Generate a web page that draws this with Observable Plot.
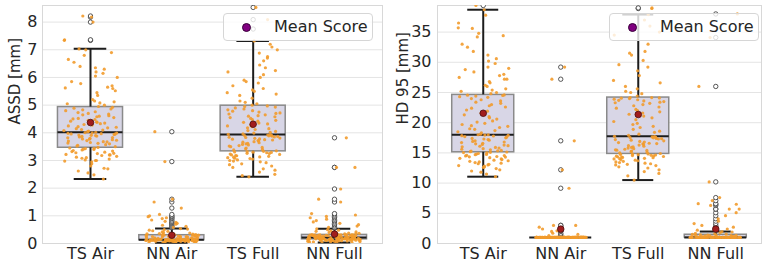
<!DOCTYPE html>
<html><head><meta charset="utf-8">
<script src="https://cdn.jsdelivr.net/npm/d3@7"></script>
<script src="https://cdn.jsdelivr.net/npm/@observablehq/plot@0.6"></script>
<style>
body{margin:0;background:#fff;}
#wrap{position:relative;width:767px;height:265px;font-family:"DejaVu Sans",sans-serif;overflow:hidden;}
.panel{position:absolute;top:0;}
.legend{position:absolute;top:13px;width:150px;height:28px;box-sizing:border-box;background:rgba(255,255,255,0.8);border:1px solid #d6d6d6;border-radius:4px;font:16px "DejaVu Sans";color:#262626;}
.legend .dot{position:absolute;left:18px;top:9px;width:7px;height:7px;border-radius:50%;background:#800080;border:0.7px solid #3a003a;}
.legend .txt{position:absolute;left:50px;top:3px;white-space:nowrap;line-height:20px;}
</style></head>
<body>
<div id="wrap">
  <div class="panel" id="p1" style="left:0"></div>
  <div class="panel" id="p2" style="left:384px"></div>
  <div class="legend" style="left:223px"><span class="dot"></span><span class="txt">Mean Score</span></div>
  <div class="legend" style="left:609px"><span class="dot"></span><span class="txt">Mean Score</span></div>
</div>
<script>
const categories = ["TS Air", "NN Air", "TS Full", "NN Full"];

// ---- ASSD [mm] ----
const assdTicks = [0,1,2,3,4,5,6,7,8];
const assdTsAir = [2.33,2.48,2.55,2.62,2.7,2.72,2.8,2.88,2.95,2.98,3.0,3.0,3.02,3.05,3.08,3.1,3.12,3.15,3.18,3.2,3.2,3.22,3.25,3.26,3.28,3.3,3.32,3.34,3.36,3.38,3.4,3.41,3.43,3.44,3.45,
 3.47,3.5,3.52,3.55,3.57,3.6,3.62,3.63,3.65,3.67,3.68,3.7,3.72,3.73,3.75,3.77,3.78,3.8,3.82,3.83,3.85,3.87,3.88,3.9,3.91,3.92,3.94,3.95,3.96,3.97,3.98,3.99,4.0,4.01,4.02,
 4.04,4.06,4.08,4.1,4.12,4.15,4.18,4.2,4.22,4.25,4.28,4.3,4.33,4.35,4.38,4.4,4.42,4.45,4.48,4.5,4.52,4.55,4.58,4.6,4.62,4.65,4.68,4.7,4.73,4.76,4.8,4.83,4.86,4.89,4.92,
 4.95,5.0,5.05,5.08,5.12,5.15,5.2,5.35,5.45,5.52,5.6,5.62,5.65,5.7,5.78,5.85,6.0,6.05,6.15,6.2,6.3,6.35,6.4,6.55,6.65,6.8,6.9,7.0,7.03,7.34,7.36,8.0,8.18,8.22];
const assdNnAir = [0.03,0.04,0.04,0.05,0.05,0.05,0.06,0.06,0.06,0.07,0.07,0.07,0.08,0.08,0.08,0.08,0.09,0.09,0.09,0.09,0.1,0.1,0.1,0.1,0.1,0.11,0.11,0.11,0.11,0.11,0.11,0.12,0.12,0.12,0.12,
 0.12,0.12,0.12,0.12,0.12,0.13,0.13,0.13,0.13,0.13,0.13,0.13,0.13,0.13,0.13,0.13,0.13,0.13,0.13,0.13,0.14,0.14,0.14,0.14,0.14,0.14,0.14,0.14,0.14,0.14,0.14,0.14,0.14,0.14,0.14,
 0.15,0.15,0.16,0.16,0.17,0.17,0.18,0.18,0.19,0.19,0.2,0.2,0.21,0.21,0.22,0.22,0.23,0.23,0.24,0.24,0.25,0.25,0.26,0.26,0.27,0.27,0.28,0.28,0.29,0.29,0.3,0.3,0.3,0.3,0.3,
 0.31,0.32,0.33,0.34,0.35,0.36,0.38,0.4,0.42,0.44,0.46,0.48,0.5,0.52,0.54,0.58,0.62,0.66,0.7,0.73,0.76,0.8,0.85,0.9,0.93,0.97,1.0,1.05,1.28,1.5,1.6,2.96,4.04];
const assdTsFull = [2.41,2.45,2.5,2.58,2.65,2.7,2.75,2.8,2.85,2.88,2.92,2.95,2.98,3.0,3.02,3.05,3.07,3.08,3.1,3.12,3.13,3.15,3.17,3.18,3.2,3.22,3.23,3.25,3.26,3.28,3.29,3.3,3.31,3.32,3.33,
 3.35,3.38,3.4,3.42,3.45,3.47,3.5,3.52,3.54,3.56,3.58,3.6,3.62,3.64,3.66,3.68,3.7,3.72,3.74,3.75,3.77,3.78,3.8,3.81,3.83,3.84,3.85,3.87,3.88,3.89,3.9,3.91,3.92,3.93,3.94,
 3.96,3.99,4.02,4.05,4.08,4.12,4.15,4.18,4.22,4.25,4.28,4.32,4.35,4.38,4.42,4.45,4.48,4.52,4.55,4.58,4.6,4.62,4.65,4.68,4.7,4.72,4.75,4.78,4.8,4.83,4.86,4.9,4.93,4.95,4.97,
 5.0,5.05,5.1,5.15,5.25,5.35,5.4,5.45,5.5,5.55,5.6,5.7,5.8,5.85,5.9,6.0,6.1,6.2,6.25,6.35,6.45,6.6,6.7,6.75,6.88,7.0,7.1,7.2,7.32,7.75,8.09,8.53];
const assdNnFull = [0.04,0.05,0.05,0.06,0.06,0.07,0.07,0.08,0.08,0.09,0.09,0.1,0.1,0.1,0.11,0.11,0.11,0.12,0.12,0.12,0.12,0.13,0.13,0.13,0.13,0.13,0.14,0.14,0.14,0.14,0.14,0.15,0.15,0.15,0.15,
 0.15,0.16,0.16,0.16,0.16,0.16,0.16,0.17,0.17,0.17,0.17,0.17,0.17,0.18,0.18,0.18,0.18,0.18,0.18,0.19,0.19,0.19,0.19,0.19,0.2,0.2,0.2,0.2,0.2,0.21,0.21,0.21,0.21,0.22,0.22,
 0.22,0.22,0.23,0.23,0.23,0.24,0.24,0.24,0.25,0.25,0.25,0.26,0.26,0.26,0.27,0.27,0.27,0.28,0.28,0.28,0.29,0.29,0.29,0.29,0.3,0.3,0.3,0.3,0.3,0.31,0.31,0.31,0.31,0.31,0.31,
 0.32,0.33,0.34,0.35,0.36,0.37,0.38,0.4,0.42,0.44,0.46,0.48,0.5,0.53,0.58,0.63,0.68,0.73,0.78,0.83,0.88,0.93,0.98,1.03,1.08,1.5,1.6,1.97,2.75,2.75,3.82];
const assdQ1 = [3.46, 0.12, 3.33, 0.15];
const assdMedian = [4.02, 0.14, 3.94, 0.22];
const assdQ3 = [4.93, 0.30, 4.98, 0.31];
const assdLo = [2.33, 0.03, 2.41, 0.04];
const assdHi = [7.04, 0.54, 7.32, 0.53];
const assdMean = [4.37, 0.30, 4.31, 0.34];

// ---- HD 95 [mm] ----
const hdTicks = [0,5,10,15,20,25,30,35];
const hdTsAir = [11.06,11.5,11.8,12.0,12.2,12.4,12.6,12.7,12.8,12.9,13.0,13.1,13.2,13.3,13.4,13.5,13.6,13.7,13.8,13.9,14.0,14.1,14.2,14.3,14.35,14.4,14.5,14.55,14.6,14.7,14.75,14.8,14.9,15.0,15.05,
 15.1,15.15,15.2,15.3,15.35,15.4,15.5,15.6,15.7,15.8,15.9,16.0,16.1,16.2,16.3,16.4,16.5,16.6,16.7,16.8,16.9,17.0,17.1,17.2,17.3,17.4,17.5,17.6,17.7,17.8,17.85,17.9,17.95,18.0,18.0,
 18.1,18.3,18.5,18.7,18.9,19.0,19.2,19.4,19.5,19.7,19.9,20.1,20.3,20.6,20.8,21.0,21.3,21.6,21.9,22.1,22.4,22.6,22.8,23.0,23.2,23.4,23.6,23.8,24.0,24.2,24.3,24.4,24.5,24.55,24.6,
 24.8,25.0,25.2,25.4,25.6,26.0,26.2,26.6,26.8,27.2,27.2,27.5,27.8,28.0,28.4,28.8,29.0,29.2,29.8,30.2,30.6,31.2,31.8,32.5,33.0,34.2,34.4,34.8,35.6,35.7,36.5,37.8,38.7,39.4];
const hdNnAir = [1,1,1,1,1,1,1,1,1,1,1,1,1,1,1,1,1,1,1,1,1,1,1,1,1,1,1,1,1,1,1,1,1,1,1,1,1,1,1,1,
 1,1,1,1,1,1,1,1,1,1,1,1,1,1,1,1,1,1,1,1,1,1,1,1,1,1,1,1,1,1,1,1,1,1,1,1,1,1,1,1,
 1,1,1,1,1,1,1,1,1,1,1,1,1,1,1,1,1,1,1,1,1,1,1,1,1,1,1,1,1,1,
 1.3,1.5,1.7,2.0,2.1,2.4,2.7,3.0,3.0,9.15,12.2,17.0,27.2,29.2];
const hdTsFull = [10.5,11.2,11.6,11.9,12.2,12.5,12.7,12.9,13.0,13.1,13.2,13.3,13.4,13.5,13.6,13.7,13.8,13.9,14.0,14.05,14.1,14.2,14.25,14.3,14.35,14.4,14.45,14.5,14.55,14.6,14.65,14.7,14.75,14.8,14.83,
 14.9,15.0,15.1,15.2,15.3,15.4,15.45,15.5,15.6,15.7,15.8,15.9,16.0,16.1,16.2,16.3,16.4,16.5,16.55,16.6,16.7,16.8,16.9,17.0,17.1,17.2,17.3,17.35,17.4,17.5,17.55,17.6,17.65,17.7,17.75,
 17.9,18.1,18.4,18.6,18.9,19.2,19.4,19.7,19.9,20.2,20.5,20.8,21.1,21.4,21.6,21.8,22.0,22.2,22.4,22.6,22.8,23.0,23.2,23.3,23.4,23.5,23.6,23.7,23.8,23.9,24.0,24.05,24.1,24.15,24.16,
 24.4,24.8,25.0,25.2,25.6,26.0,26.6,27.0,27.8,28.6,29.2,29.6,30.3,31.2,31.5,31.8,33.0,34.5,35.0,36.0,37.0,37.9,38.9,39.0];
const hdNnFull = [1,1,1,1,1,1,1,1,1,1,1,1,1,1,1,1,1,1,1,1,1,1,1,1,1,1,1,1,1,1,1,1,1,1,1,1,1,1,1,1,
 1,1,1,1,1,1,1,1,1,1,1,1,1,1,1,1,1,1,1,1,1,1,1,1,1,1,1,1,1,1,1,1,1,1,1,1,1,1,1,1,
 1.05,1.1,1.1,1.15,1.2,1.2,1.25,1.3,1.3,1.35,1.4,1.4,1.45,1.45,1.5,1.55,1.6,1.7,1.8,1.9,1.98,
 2.2,2.4,2.7,3.0,3.3,3.7,4.1,4.6,5.1,5.7,5.7,6.3,6.5,6.6,7.1,7.6,10.2,26.0,34.1,38.0];
const hdQ1 = [15.1, 1.0, 14.83, 1.0];
const hdMedian = [18.0, 1.0, 17.75, 1.0];
const hdQ3 = [24.6, 1.0, 24.16, 1.45];
const hdLo = [11.06, 1.0, 10.5, 1.0];
const hdHi = [38.7, 1.0, 37.9, 1.98];
const hdMean = [21.56, 2.38, 21.35, 2.39];

// deterministic jitter for strip points (layout only)
function jit(k, g) {
  const s = Math.sin((k + 1) * 12.9898 + (g + 1) * 78.233) * 43758.5453;
  return (s - Math.floor(s) - 0.5) * 0.66;
}

function panel(cfg) {
  const boxes = categories.map((c, i) => ({
    i, q1: cfg.q1[i], median: cfg.median[i], q3: cfg.q3[i], lo: cfg.lo[i], hi: cfg.hi[i], mean: cfg.mean[i]
  }));
  const points = cfg.groups.flatMap((arr, g) => arr.map((v, k) => ({i: g, v, j: jit(k, g)})));
  const outliers = points.filter(d => d.v > boxes[d.i].hi + 1e-9 || d.v < boxes[d.i].lo - 1e-9);
  const ink = "#1c1c1c";
  return Plot.plot({
    width: cfg.width, height: 265,
    marginLeft: cfg.marginLeft, marginRight: cfg.marginRight, marginTop: 5, marginBottom: 22,
    style: {fontFamily: "DejaVu Sans", fontSize: "16px", color: "#262626", background: "transparent"},
    x: {type: "linear", domain: [-0.59, 3.59], axis: null},
    y: {domain: [0, cfg.yMax], axis: null},
    marks: [
      Plot.ruleY(cfg.ticks, {stroke: "#e4e4e4", strokeWidth: 1}),
      Plot.frame({stroke: "#d8d8d8"}),
      Plot.axisX({ticks: [0,1,2,3], tickSize: 0, tickPadding: 4, tickFormat: i => categories[i], label: null, fontSize: 16}),
      Plot.axisY({ticks: cfg.ticks, tickSize: 0, tickPadding: cfg.tickPad, label: null, fontSize: 16}),
      Plot.text([cfg.label], {frameAnchor: "left", dx: cfg.labelDx, rotate: -90, fontSize: 15, fill: "#262626"}),
      Plot.rect(boxes, {x1: d => d.i - 0.4, x2: d => d.i + 0.4, y1: "q1", y2: "q3", fill: "#d8d6e6", stroke: "#8a8a8a", strokeWidth: 1.5}),
      Plot.ruleX(boxes, {x: "i", y1: "q3", y2: "hi", stroke: ink, strokeWidth: 2}),
      Plot.ruleX(boxes, {x: "i", y1: "lo", y2: "q1", stroke: ink, strokeWidth: 2}),
      Plot.ruleY(boxes, {y: "hi", x1: d => d.i - 0.2, x2: d => d.i + 0.2, stroke: ink, strokeWidth: 2}),
      Plot.ruleY(boxes, {y: "lo", x1: d => d.i - 0.2, x2: d => d.i + 0.2, stroke: ink, strokeWidth: 2}),
      Plot.ruleY(boxes, {y: "median", x1: d => d.i - 0.4, x2: d => d.i + 0.4, stroke: ink, strokeWidth: 2}),
      Plot.dot(outliers, {x: "i", y: "v", r: 2.2, fill: "white", stroke: "#444", strokeWidth: 0.9, clip: true}),
      Plot.dot(points, {x: d => d.i + d.j, y: "v", r: 1.6, fill: "#f29b2c", fillOpacity: 0.9, clip: true}),
      Plot.dot(boxes, {x: "i", y: "mean", r: 3.3, fill: "#a11d1d", stroke: "#4a0c0c", strokeWidth: 0.8})
    ]
  });
}

document.getElementById("p1").appendChild(panel({
  groups: [assdTsAir, assdNnAir, assdTsFull, assdNnFull],
  q1: assdQ1, median: assdMedian, q3: assdQ3, lo: assdLo, hi: assdHi, mean: assdMean,
  ticks: assdTicks, yMax: 8.6, label: "ASSD [mm]",
  width: 384, marginLeft: 42, marginRight: 2, labelDx: -27, tickPad: 5
}));
document.getElementById("p2").appendChild(panel({
  groups: [hdTsAir, hdNnAir, hdTsFull, hdNnFull],
  q1: hdQ1, median: hdMedian, q3: hdQ3, lo: hdLo, hi: hdHi, mean: hdMean,
  ticks: hdTicks, yMax: 39.4, label: "HD 95 [mm]",
  width: 383, marginLeft: 53, marginRight: 6, labelDx: -34, tickPad: 6
}));
</script>
</body></html>
